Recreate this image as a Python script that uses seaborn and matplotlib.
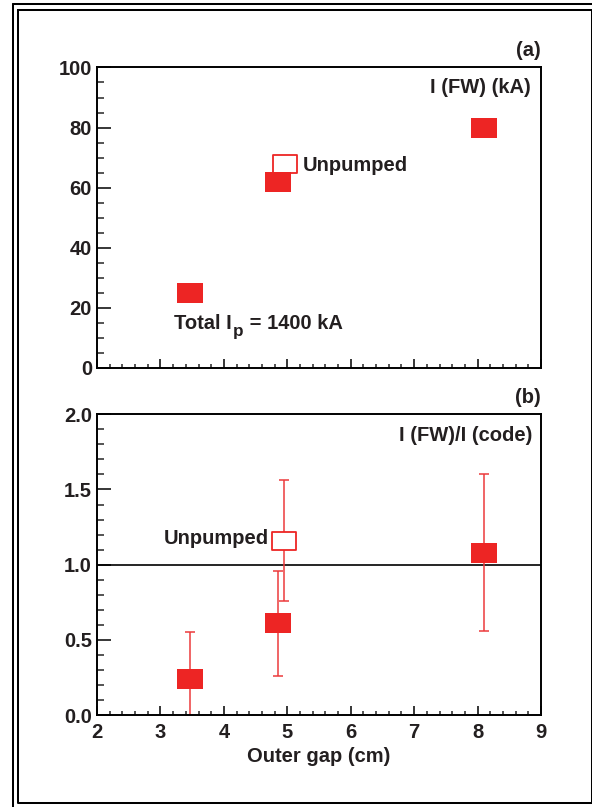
import numpy as np
import pandas as pd
import seaborn as sns
import matplotlib
matplotlib.use("Agg")
import matplotlib.pyplot as plt
from matplotlib import font_manager
from matplotlib.path import Path
from matplotlib.markers import MarkerStyle
from matplotlib.lines import Line2D
from matplotlib.ticker import MultipleLocator

# (a) first-wall current versus outer gap
gap_pumped = [3.47, 4.85, 8.10]
ifw_pumped = [25, 62, 80]
gap_unpumped = [4.96]
ifw_unpumped = [68]

# (b) ratio of measured to code first-wall current
ratio_gap_pumped = [3.46, 4.85, 8.10]
ratio_pumped = [0.24, 0.61, 1.08]
ratio_err_pumped = [0.31, 0.35, 0.52]
ratio_gap_unpumped = [4.95]
ratio_unpumped = [1.16]
ratio_err_unpumped = [0.40]

top_yticks = [0, 20, 40, 60, 80, 100]
bottom_yticks = [0.0, 0.5, 1.0, 1.5, 2.0]
xticks = [2, 3, 4, 5, 6, 7, 8, 9]

RED = "#ED2524"
ERR_RED = "#EC3A3C"
INK = "#231F20"

sns.set_theme(style="ticks")

# condensed bold face when available, regular width otherwise
installed = {f.name for f in font_manager.fontManager.ttflist}
if "Liberation Sans Narrow" in installed:
    FAMILY = "Liberation Sans Narrow"
    FS = 16.5
else:
    FAMILY = "Liberation Sans"
    FS = 14.5
plt.rcParams["font.family"] = [FAMILY, "DejaVu Sans"]
plt.rcParams["font.weight"] = "bold"

# wide rectangular marker used for every data point
rect = Path([(-0.5, -0.385), (0.5, -0.385), (0.5, 0.385), (-0.5, 0.385), (-0.5, -0.385)],
            [Path.MOVETO, Path.LINETO, Path.LINETO, Path.LINETO, Path.CLOSEPOLY])
rect_marker = MarkerStyle(rect)
S_FILLED = 18.7 ** 2
S_OPEN = 16.6 ** 2

fig = plt.figure(figsize=(5.92, 8.07), dpi=100)
ax_a = fig.add_axes([0.1639, 0.5440, 0.75, 0.3724])
ax_b = fig.add_axes([0.1639, 0.1140, 0.75, 0.3726])

df_a_p = pd.DataFrame({"gap": gap_pumped, "ifw": ifw_pumped})
df_a_u = pd.DataFrame({"gap": gap_unpumped, "ifw": ifw_unpumped})
df_b_p = pd.DataFrame({"gap": ratio_gap_pumped, "ratio": ratio_pumped})
df_b_u = pd.DataFrame({"gap": ratio_gap_unpumped, "ratio": ratio_unpumped})

# panel (a)
sns.scatterplot(data=df_a_u, x="gap", y="ifw", ax=ax_a, marker=rect_marker, s=S_OPEN,
                facecolor="white", edgecolor=RED, linewidth=1.3, zorder=3)
sns.scatterplot(data=df_a_p, x="gap", y="ifw", ax=ax_a, marker=rect_marker, s=S_FILLED,
                color=RED, linewidth=0, zorder=4)

# panel (b)
ax_b.axhline(1.0, color="black", lw=1.2, zorder=2)
ax_b.errorbar(ratio_gap_pumped, ratio_pumped, yerr=ratio_err_pumped, fmt="none",
              ecolor=ERR_RED, elinewidth=1.1, capsize=3.6, capthick=1.1, zorder=2.5)
ax_b.errorbar(ratio_gap_unpumped, ratio_unpumped, yerr=ratio_err_unpumped, fmt="none",
              ecolor=ERR_RED, elinewidth=1.1, capsize=3.6, capthick=1.1, zorder=2.5)
sns.scatterplot(data=df_b_u, x="gap", y="ratio", ax=ax_b, marker=rect_marker, s=S_OPEN,
                facecolor="white", edgecolor=RED, linewidth=1.3, zorder=3)
sns.scatterplot(data=df_b_p, x="gap", y="ratio", ax=ax_b, marker=rect_marker, s=S_FILLED,
                color=RED, linewidth=0, zorder=4)

for ax in (ax_a, ax_b):
    ax.set_xlim(2, 9)
    ax.set_xticks(xticks)
    ax.xaxis.set_minor_locator(MultipleLocator(0.2))
    ax.set_xlabel("")
    ax.set_ylabel("")
    for sp in ax.spines.values():
        sp.set_visible(True)
        sp.set_linewidth(1.4)
        sp.set_color("black")
    ax.tick_params(axis="y", which="major", direction="in", length=10, width=1.1,
                   labelsize=FS, pad=3.6, colors="black", labelcolor=INK)
    ax.tick_params(axis="y", which="minor", direction="in", length=5, width=1.1)
    ax.tick_params(axis="x", which="major", direction="in", length=6.5, width=1.1,
                   labelsize=FS, pad=6, colors="black", labelcolor=INK)
    ax.tick_params(axis="x", which="minor", direction="in", length=3.2, width=1.1)
    ax.tick_params(top=False, right=False, which="both")

ax_a.set_ylim(0, 100)
ax_a.set_yticks(top_yticks)
ax_a.yaxis.set_minor_locator(MultipleLocator(5))
ax_a.tick_params(axis="x", labelbottom=False)

ax_b.set_ylim(0, 2.0)
ax_b.set_yticks(bottom_yticks)
ax_b.set_yticklabels([f"{v:.1f}" for v in bottom_yticks])
ax_b.yaxis.set_minor_locator(MultipleLocator(0.1))
ax_b.set_xticklabels([str(v) for v in xticks])
ax_b.set_xlabel("Outer gap (cm)", fontsize=FS, fontweight="bold", labelpad=3, color=INK)

txt = dict(fontsize=FS, fontweight="bold", color=INK)
ax_a.text(1.0, 1.058, "(a)", transform=ax_a.transAxes, ha="right", va="center", **txt)
ax_a.text(0.976, 0.932, "I (FW) (kA)", transform=ax_a.transAxes, ha="right", va="center", **txt)
ax_a.text(5.25, 67.5, "Unpumped", ha="left", va="center", **txt)

# "Total I_p = 1400 kA" with a large, lowered subscript
t1 = ax_a.text(3.22, 13.0, "Total I", ha="left", va="baseline", **txt)
t2 = ax_a.annotate("p", xy=(1, 0), xycoords=t1, xytext=(0.8, -4.3), textcoords="offset points",
                   ha="left", va="bottom", fontsize=FS * 0.85, fontweight="bold", color=INK)
ax_a.annotate(" = 1400 kA", xy=(1, 0), xycoords=(t2, t1), xytext=(0.5, 0),
              textcoords="offset points", ha="left", va="bottom", **txt)

ax_b.text(1.0, 1.057, "(b)", transform=ax_b.transAxes, ha="right", va="center", **txt)
ax_b.text(0.98, 0.928, "I (FW)/I (code)", transform=ax_b.transAxes, ha="right", va="center", **txt)
ax_b.text(3.045, 1.177, "Unpumped", ha="left", va="center", **txt)

# double frame around the figure
W, H = 592.0, 807.0
def fx(px):
    return px / W
def fy(py):
    return 1 - py / H

frame_lw = 1.45
fig.add_artist(Line2D([fx(13), fx(13)], [fy(4), fy(807)], color="black", lw=frame_lw))
fig.add_artist(Line2D([fx(13), fx(592)], [fy(4), fy(4)], color="black", lw=frame_lw))
fig.add_artist(Line2D([fx(18), fx(591.5), fx(591.5), fx(18), fx(18)],
                      [fy(10), fy(10), fy(803), fy(803), fy(10)], color="black", lw=frame_lw))

fig.savefig("out.png", dpi=100)
